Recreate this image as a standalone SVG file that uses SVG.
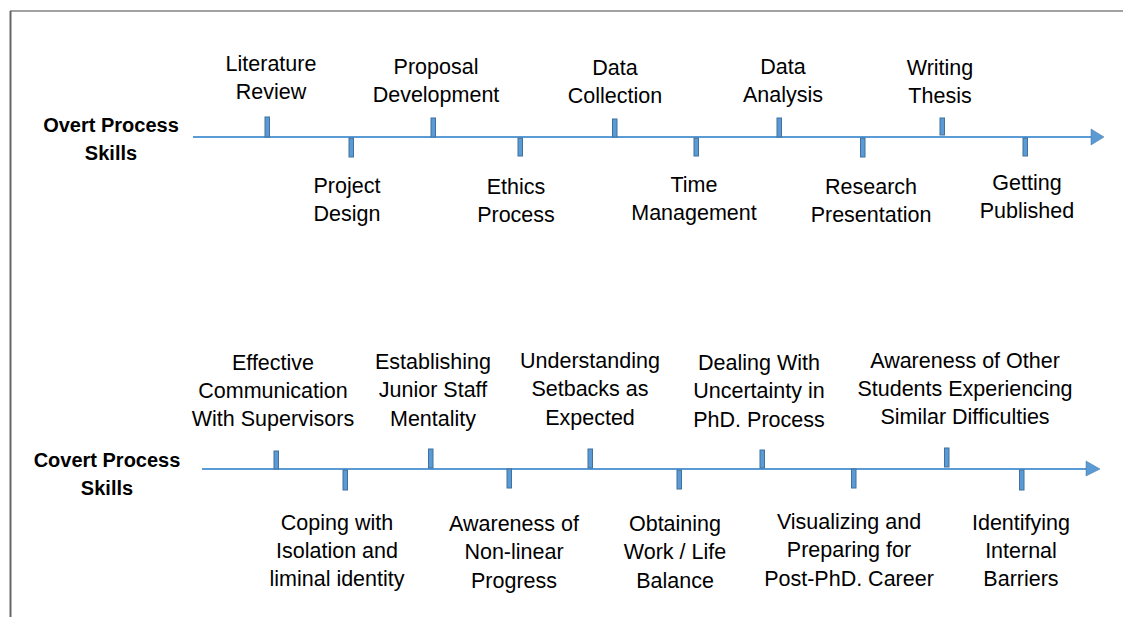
<svg xmlns="http://www.w3.org/2000/svg" width="1123" height="617" viewBox="0 0 1123 617">
<style>
.lbl{font-family:"Liberation Sans",Arial,sans-serif;font-size:21.5px;fill:#000;text-anchor:middle}
.hd{font-family:"Liberation Sans",Arial,sans-serif;font-size:20px;font-weight:bold;fill:#000;text-anchor:middle}
.axis{stroke:#5B9BD5;stroke-width:2;fill:none}
.tick{fill:#5B9BD5;stroke:#41719C;stroke-width:1}
.head{fill:#5B9BD5;stroke:#41719C;stroke-width:0.5}
</style>
<rect width="1123" height="617" fill="#fff"/>
<g id="frame">
<line x1="10" y1="11" x2="1123" y2="11" stroke="#444" stroke-width="1.2"/>
<line x1="10.5" y1="11" x2="10.5" y2="617" stroke="#666" stroke-width="2"/>
</g>
<g id="connectors">
<line class="axis" x1="193" y1="137" x2="1092" y2="137"/>
<polygon class="head" points="1091,129 1104,137 1091,145"/>
<line class="axis" x1="202" y1="469" x2="1087" y2="469"/>
<polygon class="head" points="1086,461 1100,469 1086,476"/>
</g>
<g id="overt-title"><text class="hd" x="111" y="132">Overt Process</text><text class="hd" x="111" y="160">Skills</text></g>
<g id="covert-title"><text class="hd" x="107" y="467">Covert Process</text><text class="hd" x="107" y="495">Skills</text></g>
<g id="o1"><rect class="tick" x="265" y="117" width="4.5" height="20"/><text class="lbl" x="271" y="71">Literature</text><text class="lbl" x="271" y="99">Review</text></g>
<g id="o2"><rect class="tick" x="349" y="138" width="4.5" height="19"/><text class="lbl" x="347" y="193">Project</text><text class="lbl" x="347" y="221">Design</text></g>
<g id="o3"><rect class="tick" x="431" y="118" width="4.5" height="19"/><text class="lbl" x="436" y="74">Proposal</text><text class="lbl" x="436" y="102">Development</text></g>
<g id="o4"><rect class="tick" x="518" y="138" width="4.5" height="18"/><text class="lbl" x="516" y="194">Ethics</text><text class="lbl" x="516" y="222">Process</text></g>
<g id="o5"><rect class="tick" x="612.5" y="119" width="4.5" height="18"/><text class="lbl" x="615" y="75">Data</text><text class="lbl" x="615" y="103">Collection</text></g>
<g id="o6"><rect class="tick" x="694" y="138" width="4.5" height="18"/><text class="lbl" x="694" y="192">Time</text><text class="lbl" x="694" y="220">Management</text></g>
<g id="o7"><rect class="tick" x="777" y="118" width="4.5" height="19"/><text class="lbl" x="783" y="74">Data</text><text class="lbl" x="783" y="102">Analysis</text></g>
<g id="o8"><rect class="tick" x="860.5" y="138" width="4.5" height="19"/><text class="lbl" x="871" y="194">Research</text><text class="lbl" x="871" y="222">Presentation</text></g>
<g id="o9"><rect class="tick" x="940" y="118" width="4.5" height="17"/><text class="lbl" x="940" y="75">Writing</text><text class="lbl" x="940" y="103">Thesis</text></g>
<g id="o10"><rect class="tick" x="1023" y="138" width="4.5" height="18"/><text class="lbl" x="1027" y="190">Getting</text><text class="lbl" x="1027" y="218">Published</text></g>
<g id="c1"><rect class="tick" x="274" y="451" width="4.5" height="18"/><text class="lbl" x="273" y="370">Effective</text><text class="lbl" x="273" y="398">Communication</text><text class="lbl" x="273" y="426">With Supervisors</text></g>
<g id="c2"><rect class="tick" x="343" y="470" width="4.5" height="20"/><text class="lbl" x="337" y="530">Coping with</text><text class="lbl" x="337" y="558">Isolation and</text><text class="lbl" x="337" y="586">liminal identity</text></g>
<g id="c3"><rect class="tick" x="428.5" y="449" width="4.5" height="19"/><text class="lbl" x="433" y="369">Establishing</text><text class="lbl" x="433" y="397">Junior Staff</text><text class="lbl" x="433" y="426">Mentality</text></g>
<g id="c4"><rect class="tick" x="507" y="469" width="4.5" height="19"/><text class="lbl" x="514" y="531">Awareness of</text><text class="lbl" x="514" y="559">Non-linear</text><text class="lbl" x="514" y="588">Progress</text></g>
<g id="c5"><rect class="tick" x="588" y="449" width="4.5" height="19"/><text class="lbl" x="590" y="368">Understanding</text><text class="lbl" x="590" y="396">Setbacks as</text><text class="lbl" x="590" y="425">Expected</text></g>
<g id="c6"><rect class="tick" x="677" y="470" width="4.5" height="19"/><text class="lbl" x="675" y="531">Obtaining</text><text class="lbl" x="675" y="559">Work / Life</text><text class="lbl" x="675" y="588">Balance</text></g>
<g id="c7"><rect class="tick" x="760" y="450" width="4.5" height="18"/><text class="lbl" x="759" y="370">Dealing With</text><text class="lbl" x="759" y="398">Uncertainty in</text><text class="lbl" x="759" y="427">PhD. Process</text></g>
<g id="c8"><rect class="tick" x="851.5" y="469" width="4.5" height="19"/><text class="lbl" x="849" y="529">Visualizing and</text><text class="lbl" x="849" y="557">Preparing for</text><text class="lbl" x="849" y="586">Post-PhD. Career</text></g>
<g id="c9"><rect class="tick" x="944.5" y="448" width="4.5" height="19"/><text class="lbl" x="965" y="368">Awareness of Other</text><text class="lbl" x="965" y="396">Students Experiencing</text><text class="lbl" x="965" y="424">Similar Difficulties</text></g>
<g id="c10"><rect class="tick" x="1019.5" y="470" width="4.5" height="20"/><text class="lbl" x="1021" y="530">Identifying</text><text class="lbl" x="1021" y="558">Internal</text><text class="lbl" x="1021" y="586">Barriers</text></g>
</svg>
